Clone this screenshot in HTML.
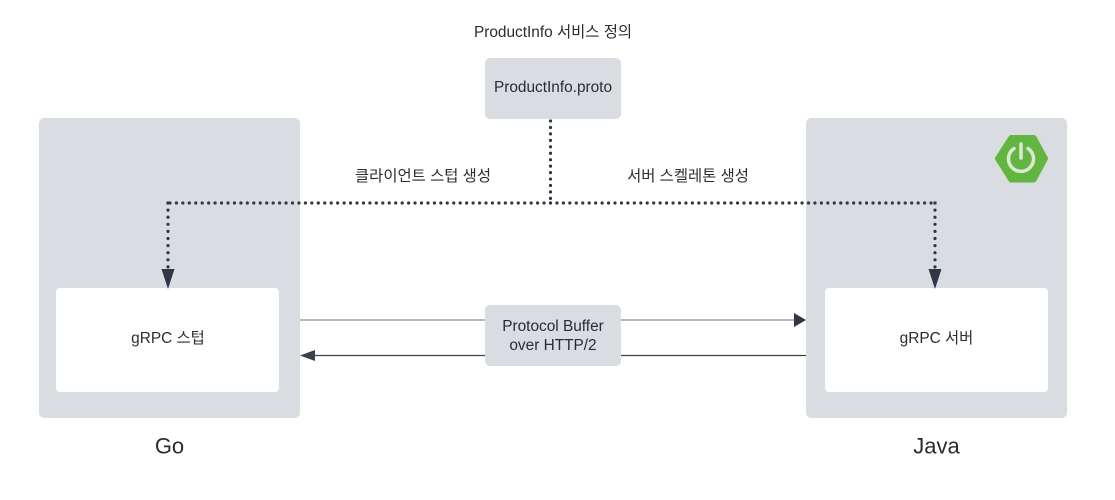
<!DOCTYPE html>
<html><head><meta charset="utf-8"><style>
html,body{margin:0;padding:0;background:#fff}
svg{display:block}
text{font-family:"Liberation Sans","Noto Sans CJK KR",sans-serif;fill:#282c33;text-anchor:middle;font-size:15.4px}
</style></head><body>
<svg width="1115" height="500" viewBox="0 0 1115 500" xmlns="http://www.w3.org/2000/svg">
<rect width="1115" height="500" fill="#fff"/>
<rect x="39" y="118" width="261" height="300" rx="5" fill="#d9dde2"/>
<rect x="806" y="118" width="261" height="300" rx="5" fill="#d9dde2"/>
<rect x="56" y="288" width="223" height="104" rx="4" fill="#fff"/>
<rect x="825" y="288" width="223" height="104" rx="4" fill="#fff"/>
<rect x="485" y="58" width="136" height="61" rx="5" fill="#d9dde2"/>
<path d="M300 320H485M621 320H794" stroke="#8b8f95" stroke-width="1.3" fill="none"/>
<path d="M315 355.500H485M621 355.500H806" stroke="#3a414a" stroke-width="1.300" fill="none"/>
<path d="M794 313V327L806 320Z" fill="#2f3742"/>
<path d="M300 355.500L315 350V361Z" fill="#3a414a"/>
<rect x="485" y="305" width="136" height="61" rx="5" fill="#d9dde2"/>
<g fill="none" stroke="#2f3742" stroke-width="3.200" stroke-linecap="round" stroke-dasharray="0 6.450">
<path d="M550.500 121V203"/>
<path d="M550.500 203H168"/>
<path d="M550.500 203H935"/>
</g>
<g fill="none" stroke="#2f3742" stroke-width="3.200" stroke-linecap="round" stroke-dasharray="0 7.100">
<path d="M168 203V268"/>
<path d="M935 203V268"/>
</g>
<path d="M166.500 201.500h3v3h-3zM933.500 201.500h3v3h-3z" fill="#2f3742"/>
<path d="M161.500 269H174.500L168 289Z" fill="#2f3742"/>
<path d="M928.500 269H941.500L935 289Z" fill="#2f3742"/>
<polygon points="1011,137.500 1034,137.500 1045.500,158.500 1034,180 1011,180 997.500,158.500" fill="#62b53f" stroke="#62b53f" stroke-width="5" stroke-linejoin="round"/>
<path d="M1014 148.500A12.500 12.500 0 1 0 1028 148.500" fill="none" stroke="#d9e8d2" stroke-width="3.500" stroke-linecap="round"/>
<path d="M1021 144V158" fill="none" stroke="#d9e8d2" stroke-width="3.500" stroke-linecap="round"/>
<text x="553" y="37">ProductInfo 서비스 정의</text>
<text x="553" y="92">ProductInfo.proto</text>
<text x="423" y="181">클라이언트 스텁 생성</text>
<text x="688" y="181">서버 스켈레톤 생성</text>
<text x="168" y="343">gRPC 스텁</text>
<text x="936.500" y="343">gRPC 서버</text>
<text x="553" y="331">Protocol Buffer</text>
<text x="553" y="350">over HTTP/2</text>
<text x="169.500" y="453.500" style="font-size:22px">Go</text>
<text x="936.500" y="453.500" style="font-size:22px">Java</text>
</svg>
</body></html>
